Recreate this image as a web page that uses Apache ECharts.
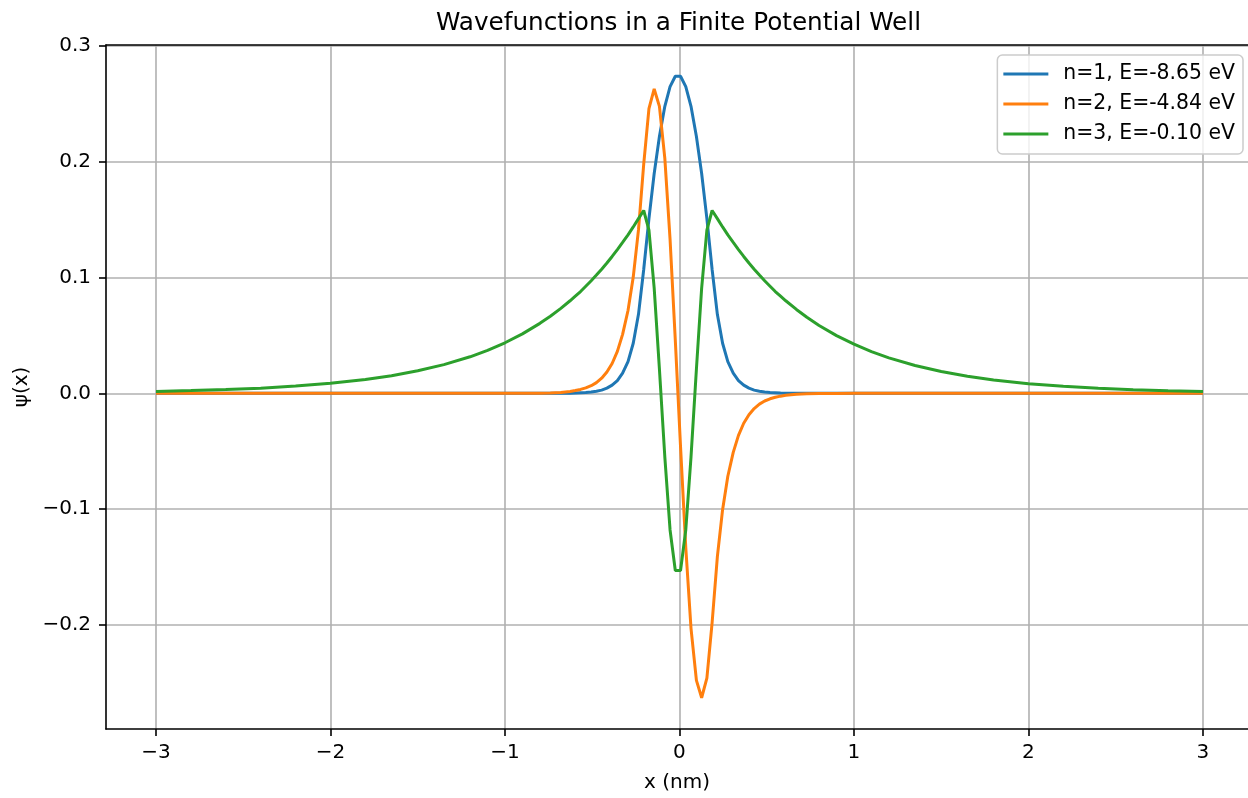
<!DOCTYPE html>
<html lang="en">
<head>
<meta charset="UTF-8" />
<title>Wavefunctions in a Finite Potential Well</title>
<style>
  html, body { margin: 0; padding: 0; background: #fff; }
  #chart { width: 1248px; height: 798px; }
</style>
</head>
<body>
<div id="chart"></div>
<script src="https://cdn.jsdelivr.net/npm/echarts@6/dist/echarts.min.js"></script>
<script>
  // sample positions in nm (fine inside the well, coarser in the tails)
  const xs = [
    -3.0, -2.8, -2.6, -2.4, -2.2, -2.0, -1.8, -1.65, -1.5, -1.35, -1.2, -1.1, -1.0,
    -0.9, -0.8, -0.74, -0.68,
    -0.627, -0.597, -0.567, -0.537, -0.506, -0.476, -0.446, -0.416, -0.386, -0.356,
    -0.326, -0.295, -0.265, -0.235, -0.205, -0.175, -0.145, -0.115, -0.084, -0.054, -0.024,
    0.006, 0.036, 0.066, 0.097, 0.127, 0.157, 0.187, 0.217, 0.247, 0.277, 0.308,
    0.338, 0.368, 0.398, 0.428, 0.458, 0.488, 0.519, 0.549, 0.579, 0.609,
    0.67, 0.73, 0.8, 0.9,
    1.0, 1.1, 1.2, 1.35, 1.5, 1.65, 1.8, 2.0, 2.2, 2.4, 2.6, 2.8, 3.0
  ];

  // psi(x), one list per state
  const psi1 = [
    0, 0, 0, 0, 0, 0, 0, 0, 0, 0, 0, 0, 0,
    0, 0, 0, 0.0001,
    0.0002, 0.0003, 0.0005, 0.0007, 0.0011, 0.0018, 0.0028, 0.0045, 0.0071, 0.0111,
    0.0175, 0.0275, 0.0433, 0.0683, 0.107, 0.151, 0.190, 0.222, 0.248, 0.265, 0.274,
    0.274, 0.265, 0.248, 0.222, 0.190, 0.151, 0.107, 0.0683, 0.0433, 0.0275, 0.0175,
    0.0111, 0.0071, 0.0045, 0.0028, 0.0018, 0.0011, 0.0007, 0.0005, 0.0003, 0.0002,
    0.0001, 0, 0, 0,
    0, 0, 0, 0, 0, 0, 0, 0, 0, 0, 0, 0, 0
  ];
  const psi2 = [
    0, 0, 0, 0, 0, 0, 0, 0, 0, 0, 0, 0, 0,
    0.0001, 0.0002, 0.0004, 0.0008,
    0.0017, 0.0024, 0.0034, 0.0047, 0.0066, 0.0093, 0.0131, 0.0184, 0.0258, 0.0363,
    0.051, 0.0716, 0.1005, 0.1412, 0.198, 0.246, 0.263, 0.248, 0.203, 0.133, 0.046,
    -0.046, -0.133, -0.203, -0.248, -0.263, -0.246, -0.198, -0.1412, -0.1005, -0.0716, -0.051,
    -0.0363, -0.0258, -0.0184, -0.0131, -0.0093, -0.0066, -0.0047, -0.0034, -0.0024, -0.0017,
    -0.0008, -0.0004, -0.0002, -0.0001,
    0, 0, 0, 0, 0, 0, 0, 0, 0, 0, 0, 0, 0
  ];
  const psi3 = [
    0.0017, 0.0024, 0.0033, 0.0045, 0.0063, 0.0087, 0.012, 0.0153, 0.0195, 0.0248, 0.0316, 0.0372, 0.0437,
    0.0514, 0.0605, 0.0666, 0.0734,
    0.080, 0.084, 0.088, 0.0926, 0.0973, 0.1022, 0.1073, 0.1126, 0.1183, 0.1242,
    0.1304, 0.1369, 0.1438, 0.151, 0.158, 0.141, 0.091, 0.021, -0.055, -0.118, -0.153,
    -0.153, -0.118, -0.055, 0.021, 0.091, 0.141, 0.158, 0.151, 0.1438, 0.1369, 0.1304,
    0.1242, 0.1183, 0.1126, 0.1073, 0.1022, 0.0973, 0.0926, 0.088, 0.084, 0.080,
    0.0725, 0.0658, 0.0587, 0.0499,
    0.0425, 0.0361, 0.0307, 0.0241, 0.0189, 0.0148, 0.0116, 0.0084, 0.0061, 0.0044, 0.0032, 0.0023, 0.0017
  ];

  const labels = ['n=1, E=-8.65 eV', 'n=2, E=-4.84 eV', 'n=3, E=-0.10 eV'];
  const colors = ['#1f77b4', '#ff7f0e', '#2ca02c'];
  const xTicks = [-3, -2, -1, 0, 1, 2, 3];
  const yTicks = [-0.2, -0.1, 0.0, 0.1, 0.2, 0.3];

  const FONT = '"DejaVu Sans", Verdana, sans-serif';
  const minus = s => s.replace('-', '\u2212');
  const BLACK = { color: '#000', width: 1.6 };

  const chart = echarts.init(document.getElementById('chart'));

  const seriesList = [psi1, psi2, psi3].map((ys, i) => ({
    name: labels[i],
    type: 'line',
    data: xs.map((x, j) => [x, ys[j]]),
    showSymbol: false,
    symbol: 'none',
    color: colors[i],
    lineStyle: { width: 3, color: colors[i] },
    clip: true
  }));

  chart.setOption({
    animation: false,
    backgroundColor: '#fff',
    title: {
      text: 'Wavefunctions in a Finite Potential Well',
      left: 436,
      top: 11,
      padding: 0,
      textStyle: { fontFamily: FONT, fontSize: 24.7, fontWeight: 'normal', color: '#000' }
    },
    legend: {
      orient: 'vertical',
      right: 5,
      top: 55,
      data: labels,
      icon: 'rect',
      itemWidth: 45,
      itemHeight: 3,
      itemGap: 6,
      padding: [7, 8, 8, 6],
      backgroundColor: 'rgba(255,255,255,0.8)',
      borderColor: '#cccccc',
      borderWidth: 1.5,
      borderRadius: 5,
      textStyle: { fontFamily: FONT, fontSize: 20.4, color: '#000', lineHeight: 24, padding: [0, 0, 0, 10] }
    },
    grid: { left: 106, right: 0, top: 45, bottom: 69, show: false },
    xAxis: [{
      type: 'value',
      min: -3.2865,
      max: 3.258,
      minInterval: 1,
      maxInterval: 1,
      name: 'x (nm)',
      nameLocation: 'middle',
      nameGap: 44,
      nameTextStyle: { fontFamily: FONT, fontSize: 20, color: '#000' },
      axisLine: { show: true, onZero: false, lineStyle: BLACK },
      axisTick: { show: true, length: 7, customValues: xTicks, lineStyle: BLACK },
      axisLabel: {
        customValues: xTicks, margin: 14, fontFamily: FONT, fontSize: 20, color: '#000',
        formatter: v => minus(String(Math.round(v)))
      },
      splitLine: { show: true, lineStyle: { color: '#b0b0b0', width: 1.6 } }
    }, {
      // top spine
      type: 'value',
      position: 'top',
      min: -3.2865,
      max: 3.258,
      axisLine: { show: true, onZero: false, lineStyle: BLACK },
      axisTick: { show: false },
      axisLabel: { show: false },
      splitLine: { show: false }
    }],
    yAxis: {
      type: 'value',
      min: -0.29,
      max: 0.301,
      minInterval: 0.1,
      maxInterval: 0.1,
      name: 'ψ(x)',
      nameLocation: 'middle',
      nameRotate: 90,
      nameGap: 72,
      nameTextStyle: { fontFamily: FONT, fontSize: 20, color: '#000' },
      axisLine: { show: true, onZero: false, lineStyle: BLACK },
      axisTick: { show: true, length: 7, customValues: yTicks, lineStyle: BLACK },
      axisLabel: {
        customValues: yTicks, margin: 15, fontFamily: FONT, fontSize: 20, color: '#000',
        formatter: v => minus(v.toFixed(1))
      },
      splitLine: { show: true, lineStyle: { color: '#b0b0b0', width: 1.6 } }
    },
    series: seriesList
  });
</script>
</body>
</html>
